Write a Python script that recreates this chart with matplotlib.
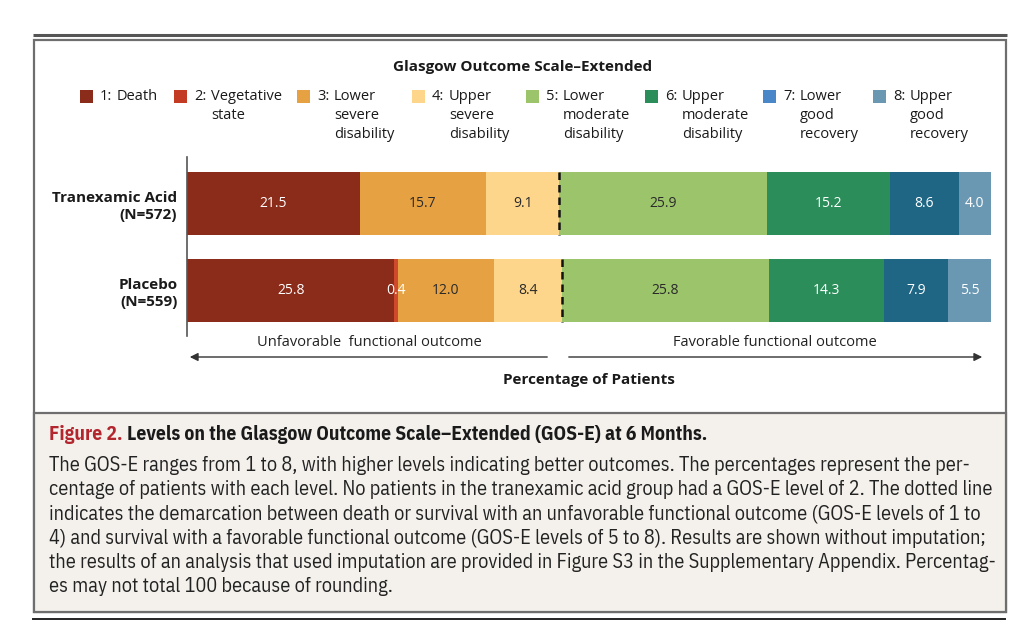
import matplotlib
matplotlib.use('Agg')
import matplotlib.pyplot as plt
from matplotlib.patches import Rectangle

# --- data -------------------------------------------------------------
groups = ['Tranexamic Acid\n(N=572)', 'Placebo\n(N=559)']
level_nums = ['1:', '2:', '3:', '4:', '5:', '6:', '7:', '8:']
level_names = ['Death', 'Vegetative\nstate', 'Lower\nsevere\ndisability',
               'Upper\nsevere\ndisability', 'Lower\nmoderate\ndisability',
               'Upper\nmoderate\ndisability', 'Lower\ngood\nrecovery',
               'Upper\ngood\nrecovery']
tranexamic = [21.5, 0.0, 15.7, 9.1, 25.9, 15.2, 8.6, 4.0]
placebo = [25.8, 0.4, 12.0, 8.4, 25.8, 14.3, 7.9, 5.5]

bar_colors = ['#8b2b1a', '#cf4a2c', '#e6a143', '#fdd58b',
              '#9cc46b', '#2b8d5a', '#1f6685', '#6a98b3']
legend_colors = ['#8b2b1a', '#c23b22', '#e6a143', '#fdd58b',
                 '#9cc46b', '#2b8d5a', '#4a87c8', '#6a98b3']
label_colors = ['white', 'white', '#2a2a2a', '#2a2a2a',
                '#2a2a2a', 'white', 'white', 'white']

caption_head = 'Figure 2.'
caption_title = 'Levels on the Glasgow Outcome Scale\u2013Extended (GOS-E) at 6 Months.'
caption_lines = [
    'The GOS-E ranges from 1 to 8, with higher levels indicating better outcomes. The percentages represent the per-',
    'centage of patients with each level. No patients in the tranexamic acid group had a GOS-E level of 2. The dotted line',
    'indicates the demarcation between death or survival with an unfavorable functional outcome (GOS-E levels of 1 to',
    '4) and survival with a favorable functional outcome (GOS-E levels of 5 to 8). Results are shown without imputation;',
    'the results of an analysis that used imputation are provided in Figure S3 in the Supplementary Appendix. Percentag-',
    'es may not total 100 because of rounding.',
]

W, H = 1034, 632
FONT = ['Open Sans', 'DejaVu Sans']
NARROW = ['IBM Plex Sans Condensed', 'DejaVu Sans']

fig = plt.figure(figsize=(W / 100, H / 100), dpi=100)
fig.patch.set_facecolor('white')

# overlay axes in pixel coordinates for frame, legend and caption
bg = fig.add_axes([0, 0, 1, 1])
bg.set_xlim(0, W)
bg.set_ylim(H, 0)
bg.axis('off')

bg.plot([33, 1007], [35, 35], color='#555555', lw=2.2, solid_capstyle='butt')
bg.add_patch(Rectangle((34, 40), 972, 572, facecolor='white', edgecolor='#6e6e6e', lw=1.6))
bg.add_patch(Rectangle((34, 413), 972, 199, facecolor='#f4f1ec', edgecolor='#6e6e6e', lw=1.6))
bg.plot([33, 1005], [619, 619], color='#222222', lw=1.4)

# legend
bg.text(523, 67, 'Glasgow Outcome Scale\u2013Extended', ha='center', va='center',
        fontsize=11, fontweight='bold', family=FONT, color='#1a1a1a')
leg_x = [80, 174, 297, 412, 526, 645, 763, 873]
for x0, num, name, col in zip(leg_x, level_nums, level_names, legend_colors):
    bg.add_patch(Rectangle((x0, 90), 13, 13, facecolor=col, edgecolor='none'))
    bg.text(x0 + 20, 97, num, ha='left', va='center', fontsize=10.5,
            family=FONT, color='#1a1a1a')
    for k, ln in enumerate(name.split('\n')):
        bg.text(x0 + 37, 97 + k * 18.5, ln, ha='left', va='center',
                fontsize=10.5, family=FONT, color='#1a1a1a')

# main bar chart
ax = fig.add_axes([187 / W, (H - 336) / H, 804 / W, (336 - 157) / H])
ax.set_xlim(0, 100)
ax.set_ylim(336, 157)
ax.set_facecolor('none')
bar_y = [203.5, 290.5]
bar_h = 63
for yc, vals in zip(bar_y, [tranexamic, placebo]):
    left = 0.0
    for i, v in enumerate(vals):
        if v > 0:
            ax.barh(yc, v, left=left, height=bar_h, color=bar_colors[i],
                    edgecolor='none')
            ax.text(left + v / 2, yc, f'{v:.1f}', ha='center', va='center',
                    fontsize=10, family=FONT, color=label_colors[i])
        left += v
        if i == 3:
            ax.vlines(left, yc - bar_h / 2, yc + bar_h / 2, colors='#111111',
                      linestyles=(0, (3, 2)), lw=1.8, zorder=5)

for s in ['top', 'right', 'bottom']:
    ax.spines[s].set_visible(False)
ax.spines['left'].set_color('#555555')
ax.spines['left'].set_linewidth(1.2)
ax.set_xticks([])
ax.set_yticks(bar_y)
ax.set_yticklabels(groups, fontsize=11, fontweight='bold', family=FONT,
                   color='#1a1a1a', multialignment='right', linespacing=1.3)
ax.tick_params(axis='y', length=0, pad=7)

# outcome arrows
bg.annotate('', xy=(187, 357), xytext=(550, 357),
            arrowprops=dict(arrowstyle='-|>', color='#333333', lw=1,
                            mutation_scale=12))
bg.annotate('', xy=(985, 357), xytext=(566, 357),
            arrowprops=dict(arrowstyle='-|>', color='#333333', lw=1,
                            mutation_scale=12))
bg.text(369, 342, 'Unfavorable  functional outcome', ha='center', va='center',
        fontsize=10.5, family=FONT, color='#222222')
bg.text(775, 342, 'Favorable functional outcome', ha='center', va='center',
        fontsize=10.5, family=FONT, color='#222222')
bg.text(589, 380, 'Percentage of Patients', ha='center', va='center',
        fontsize=11, fontweight='bold', family=FONT, color='#1a1a1a')

# caption: fit the condensed font to the widths seen in the reference
fig.canvas.draw()
renderer = fig.canvas.get_renderer()


def fitted_size(strings, target, weight='normal', base=12):
    probe = [bg.text(0, 0, s, fontsize=base, family=NARROW, fontweight=weight)
             for s in strings]
    widest = max(t.get_window_extent(renderer).width for t in probe)
    for t in probe:
        t.remove()
    return base * target / widest


body_size = fitted_size(caption_lines, 947)
head_size = fitted_size([caption_head + ' ' + caption_title], 657, weight='bold')

head = bg.text(49, 435, caption_head, ha='left', va='center', fontsize=head_size,
               fontweight='bold', family=NARROW, color='#b3262e')
hb = head.get_window_extent(renderer)
bg.text(49 + hb.width + 0.3 * head_size, 435, caption_title, ha='left', va='center',
        fontsize=head_size, fontweight='bold', family=NARROW, color='#1a1a1a')
for k, ln in enumerate(caption_lines):
    bg.text(49, 465.5 + k * 24.3, ln, ha='left', va='center', fontsize=body_size,
            family=NARROW, color='#222222')

fig.savefig('out.png', dpi=100)
